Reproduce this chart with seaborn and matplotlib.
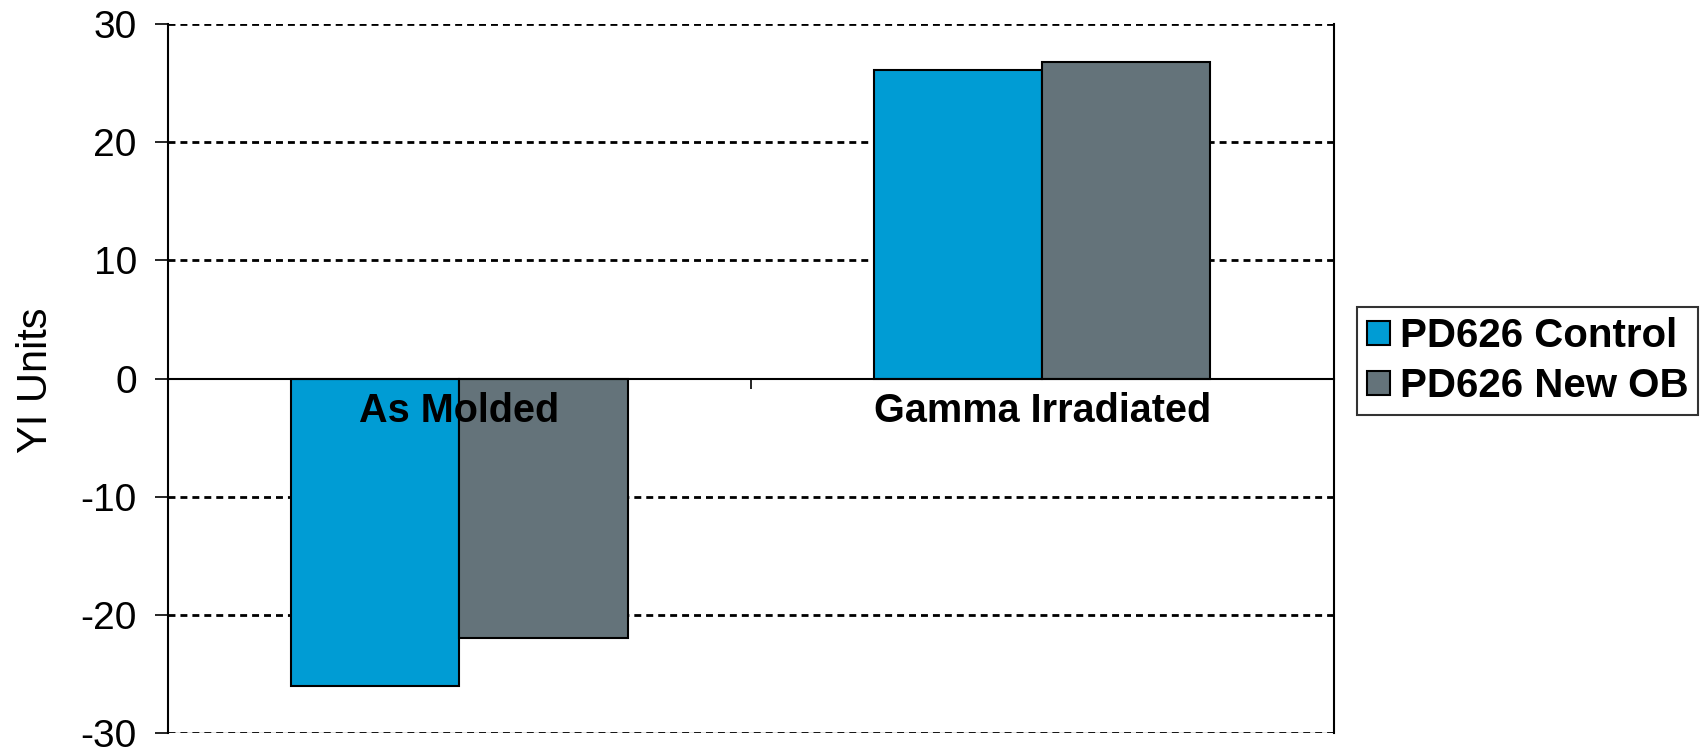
import matplotlib
matplotlib.use("Agg")
import matplotlib.pyplot as plt
import seaborn as sns
import pandas as pd

categories = ["As Molded", "Gamma Irradiated"]
series = ["PD626 Control", "PD626 New OB"]
control_vals = [-26.0, 26.1]
new_ob_vals = [-22.0, 26.8]
colors = ["#009CD4", "#64737A"]
y_ticks = [-30, -20, -10, 0, 10, 20, 30]

df = pd.DataFrame({
    "category": categories * 2,
    "series": [series[0]] * 2 + [series[1]] * 2,
    "value": control_vals + new_ob_vals,
})

sns.set_style("white")
plt.rcParams["font.family"] = ["Liberation Sans", "DejaVu Sans"]
plt.rcParams.update({"text.color": "black", "axes.labelcolor": "black",
                     "xtick.color": "black", "ytick.color": "black"})

fig = plt.figure(figsize=(17.01, 7.51), dpi=100)
ax = fig.add_axes([0.0988, 0.024, 0.6852, 0.944])

sns.barplot(data=df, x="category", y="value", hue="series", order=categories,
            hue_order=series, palette=colors, width=0.577, edgecolor="black",
            linewidth=1.5, saturation=1, ax=ax)

# seaborn's style puts the axis below the bars; the category labels must sit on top
ax.set_axisbelow(False)

ax.set_xlim(-0.5, 1.5)
ax.set_ylim(-30, 30)
ax.set_yticks(y_ticks)
ax.set_yticklabels([str(t) for t in y_ticks], fontsize=28)
ax.tick_params(axis="y", direction="out", length=9.5, width=1.2, color="black",
               labelcolor="black", left=True, pad=13)

# dashed gridlines behind the bars
ax.grid(False)
for t in y_ticks:
    if t != 0:
        ax.axhline(t, linestyle=(0, (2.5, 1.8)), color="black", linewidth=2,
                   zorder=0.5)
ax.axhline(y_ticks[0], color="#888888", linewidth=1, zorder=0.4)

ax.spines["bottom"].set_position(("data", 0))
for side in ["left", "right", "bottom"]:
    ax.spines[side].set_color("black")
    ax.spines[side].set_linewidth(1.5)
ax.spines["top"].set_visible(False)

ax.set_xticks([0, 1])
ax.set_xticklabels(categories, fontsize=28.5, fontweight="bold")
ax.set_xticks([0.5], minor=True)
ax.tick_params(axis="x", which="major", length=0, pad=10, labelcolor="black")
ax.tick_params(axis="x", which="minor", direction="out", length=7, width=1.2,
               color="black", bottom=True)

ax.set_xlabel("")
ax.set_ylabel("YI Units", fontsize=30, color="black")
ax.yaxis.set_label_coords(-0.096, 0.498)

handles, labels = ax.get_legend_handles_labels()
ax.legend_.remove()
leg = fig.legend(handles, labels, loc="center left",
                 bbox_to_anchor=(0.798, 0.519), bbox_transform=fig.transFigure,
                 prop={"size": 29, "weight": "bold"}, frameon=True, fancybox=False,
                 handlelength=0.55, handleheight=0.55, handletextpad=0.25,
                 borderpad=0.25, labelspacing=0.3, borderaxespad=0,
                 labelcolor="black")
leg.get_frame().set_edgecolor("black")
leg.get_frame().set_linewidth(1.5)

fig.savefig("out.png", dpi=100)
